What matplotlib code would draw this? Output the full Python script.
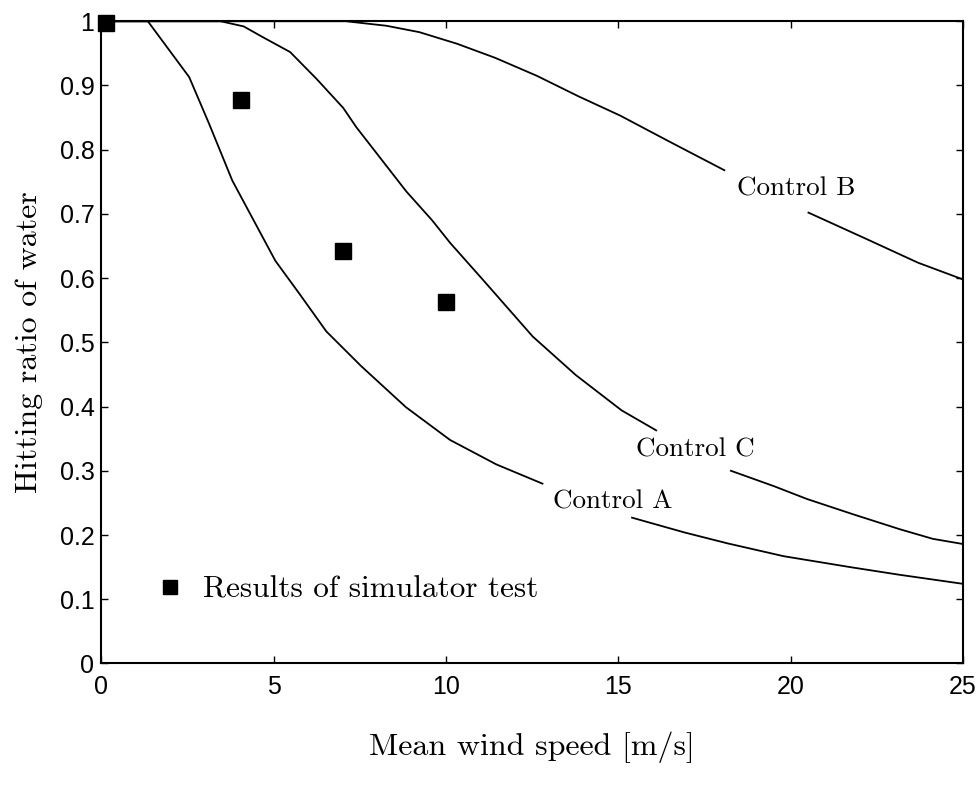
import matplotlib
matplotlib.use("Agg")
import matplotlib.pyplot as plt

# Control curves (mean wind speed [m/s] vs hitting ratio), split where the label sits
a1_x = [0, 1.35, 2.55, 3.13, 3.8, 4.42, 5.05, 5.73, 6.53, 7.54, 8.84, 10.12, 11.46, 12.8]
a1_y = [1.0, 1.0, 0.913, 0.84, 0.752, 0.69, 0.627, 0.577, 0.517, 0.463, 0.399, 0.348, 0.31, 0.28]
a2_x = [15.4, 16.92, 18.17, 19.8, 21.73, 23.17, 25.0]
a2_y = [0.227, 0.204, 0.187, 0.167, 0.15, 0.138, 0.124]

b1_x = [0, 7.1, 8.27, 9.23, 10.32, 11.43, 12.64, 13.85, 15.06, 16.47, 18.08]
b1_y = [1.0, 1.0, 0.993, 0.983, 0.965, 0.943, 0.915, 0.883, 0.853, 0.813, 0.768]
b2_x = [20.52, 22.2, 23.7, 25.0]
b2_y = [0.702, 0.661, 0.624, 0.598]

c1_x = [0, 3.46, 4.13, 4.66, 5.48, 6.25, 7.02, 7.4, 8.27, 8.85, 9.6, 10.12, 11.08, 12.52, 13.77, 15.1, 16.1]
c1_y = [1.0, 1.0, 0.992, 0.976, 0.952, 0.91, 0.865, 0.835, 0.775, 0.735, 0.69, 0.655, 0.597, 0.509, 0.449, 0.394, 0.363]
c2_x = [18.27, 19.52, 20.48, 21.83, 23.17, 24.13, 25.0]
c2_y = [0.300, 0.276, 0.256, 0.232, 0.209, 0.194, 0.186]

# simulator test results
sim_x = [0.15, 4.06, 7.0, 10.0]
sim_y = [0.997, 0.878, 0.643, 0.563]

labels = ["Control A", "Control B", "Control C"]
label_x = [14.85, 20.16, 17.24]
label_y = [0.242, 0.728, 0.322]   # baselines

fig = plt.figure(figsize=(9.79, 7.87), dpi=100)
ax = fig.add_axes([0.1035, 0.157, 0.880, 0.816])

for xs, ys in [(a1_x, a1_y), (a2_x, a2_y), (b1_x, b1_y), (b2_x, b2_y), (c1_x, c1_y), (c2_x, c2_y)]:
    ax.plot(xs, ys, color="black", lw=1.3)

ax.plot(sim_x, sim_y, "s", color="black", ms=11, clip_on=False)

for t, x, y in zip(labels, label_x, label_y):
    ax.text(x, y, t, family="cmr10", fontsize=19.5, ha="center", va="baseline")

# legend drawn by hand like the original
ax.plot([2.0], [0.119], "s", color="black", ms=10.5)
ax.text(2.95, 0.102, "Results of simulator test", family="cmr10", fontsize=22.5, va="baseline")

ax.set_xlim(0, 25)
ax.set_ylim(0, 1)
ax.set_xticks([0, 5, 10, 15, 20, 25])
ax.set_yticks([0, 0.1, 0.2, 0.3, 0.4, 0.5, 0.6, 0.7, 0.8, 0.9, 1])
ax.set_yticklabels(["0", "0.1", "0.2", "0.3", "0.4", "0.5", "0.6", "0.7", "0.8", "0.9", "1"])
ax.tick_params(direction="in", top=True, right=True, length=5, width=1, labelsize=18)
ax.tick_params(axis="x", pad=8)
ax.tick_params(axis="y", pad=5)
for lab in ax.get_xticklabels() + ax.get_yticklabels():
    lab.set_family("Liberation Sans")
for s in ax.spines.values():
    s.set_linewidth(1.5)

ax.set_xlabel("Mean wind speed [m/s]", family="cmr10", fontsize=23, labelpad=24)
ax.set_ylabel("Hitting ratio of water", family="cmr10", fontsize=23, labelpad=12)

fig.savefig("out.png", dpi=100)
